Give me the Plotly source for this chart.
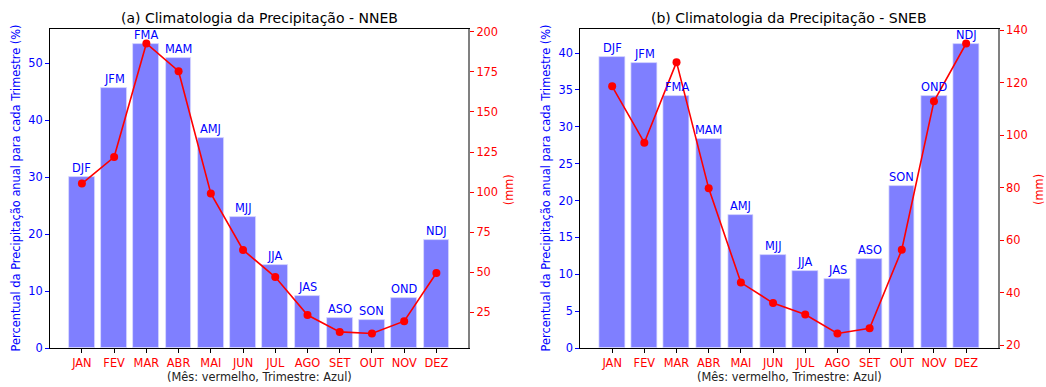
import plotly.graph_objects as go

meses = ["JAN", "FEV", "MAR", "ABR", "MAI", "JUN", "JUL", "AGO", "SET", "OUT", "NOV", "DEZ"]
trimestres = ["DJF", "JFM", "FMA", "MAM", "AMJ", "MJJ", "JJA", "JAS", "ASO", "SON", "OND", "NDJ"]

nneb_pct = [30.0, 45.7, 53.3, 50.8, 36.8, 22.9, 14.6, 9.1, 5.2, 4.9, 8.8, 18.9]
nneb_mm = [105.4, 121.9, 192.7, 175.4, 99.2, 64.0, 47.1, 23.4, 12.9, 11.9, 19.6, 49.6]

sneb_pct = [39.4, 38.7, 34.2, 28.3, 18.0, 12.6, 10.5, 9.35, 12.1, 22.0, 34.2, 41.2]
sneb_mm = [118.7, 97.2, 127.9, 79.8, 43.9, 36.1, 31.7, 24.5, 26.5, 56.4, 113.0, 135.0]

titles = ["(a) Climatologia da Precipitação - NNEB", "(b) Climatologia da Precipitação - SNEB"]
xlabel = "(Mês: vermelho, Trimestre: Azul)"
ylabel = "Percentual da Precipitação anual para cada Trimestre (%)"
ylabel2 = "(mm)"

W, H = 1046, 387
FONT = "DejaVu Sans"
FS = 11.4
FS_T = 14.0
BLUE = "#0000ff"
RED = "#ff0000"

xpos = list(range(len(meses)))

panels = [
    dict(pct=nneb_pct, mm=nneb_mm, x0=50, x1=468.3, title=titles[0], ytick=10, y2tick=25, y2start=25),
    dict(pct=sneb_pct, mm=sneb_mm, x0=580.3, x1=998, title=titles[1], ytick=5, y2tick=20, y2start=20),
]
top_px, bot_px = 29, 348
ydom = [1 - bot_px / H, 1 - top_px / H]

fig = go.Figure()
annotations = []
layout = {}

for i, p in enumerate(panels):
    n = i + 1
    xa = "x" if n == 1 else f"x{n}"
    ya = "y" if n == 1 else f"y{2*n-1}"
    ya2 = f"y{2*n}"
    xkey = "xaxis" if n == 1 else f"xaxis{n}"
    ykey = "yaxis" if n == 1 else f"yaxis{2*n-1}"
    y2key = f"yaxis{2*n}"

    fig.add_trace(go.Bar(
        x=xpos, y=p["pct"], width=0.8, xaxis=xa, yaxis=ya,
        marker=dict(color="rgba(0,0,255,0.5)", line=dict(color="rgba(220,220,255,0.9)", width=0.8)),
        showlegend=False, hoverinfo="skip",
    ))
    for xv, yv, lab in zip(xpos, p["pct"], trimestres):
        annotations.append(dict(text=lab, x=xv, y=yv, xref=xa, yref=ya, xanchor="center",
                                yanchor="bottom", showarrow=False, borderpad=1,
                                font=dict(family=FONT, size=FS, color=BLUE)))
    fig.add_trace(go.Scatter(
        x=xpos, y=p["mm"], mode="lines+markers", xaxis=xa, yaxis=ya2,
        line=dict(color=RED, width=1.6), marker=dict(color=RED, size=8),
        showlegend=False, hoverinfo="skip", cliponaxis=False,
    ))

    pmax = max(p["pct"]) * 1.05
    mmin, mmax = min(p["mm"]), max(p["mm"])
    mpad = 0.05 * (mmax - mmin)
    n_bars = len(xpos)
    xpad = 0.05 * (n_bars - 1 + 0.8)

    xdom = [p["x0"] / W, p["x1"] / W]
    layout[xkey] = dict(
        domain=xdom, anchor=ya, range=[-0.4 - xpad, n_bars - 1 + 0.4 + xpad],
        tickmode="array", tickvals=xpos, ticktext=meses,
        tickfont=dict(family=FONT, size=FS, color=RED),
        ticks="outside", ticklen=4, tickcolor="black", tickwidth=1,
        showline=True, linecolor="black", linewidth=1, mirror=True,
        showgrid=False, zeroline=False, fixedrange=True, automargin=False,
    )
    layout[ykey] = dict(
        domain=ydom, anchor=xa, range=[0, pmax],
        dtick=p["ytick"], tick0=0,
        tickfont=dict(family=FONT, size=FS, color=BLUE),
        ticks="outside", ticklen=4, tickcolor=BLUE, tickwidth=1,
        showline=True, linecolor="black", linewidth=1,
        showgrid=False, zeroline=False, fixedrange=True, automargin=False,
    )
    layout[y2key] = dict(
        overlaying=ya, anchor=xa, side="right", range=[mmin - mpad, mmax + mpad],
        dtick=p["y2tick"], tick0=p["y2start"],
        tickfont=dict(family=FONT, size=FS, color=RED),
        ticks="outside", ticklen=4, tickcolor=RED, tickwidth=1,
        showline=True, linecolor="#808080", linewidth=1.6,
        showgrid=False, zeroline=False, fixedrange=True, automargin=False,
    )

    cx = (p["x0"] + p["x1"]) / 2 / W
    annotations.append(dict(text=p["title"], x=cx, y=1 - 18 / H, xref="paper", yref="paper",
                            xanchor="center", yanchor="middle", showarrow=False,
                            font=dict(family=FONT, size=FS_T, color="black")))
    annotations.append(dict(text=xlabel, x=cx, y=1 - 377 / H, xref="paper", yref="paper",
                            xanchor="center", yanchor="middle", showarrow=False,
                            font=dict(family=FONT, size=FS, color="#222222")))
    ycen = 1 - (top_px + bot_px) / 2 / H
    lx = 15 if n == 1 else 545
    annotations.append(dict(text=ylabel, x=lx / W, y=ycen, xref="paper", yref="paper",
                            xanchor="center", yanchor="middle", showarrow=False, textangle=-90,
                            font=dict(family=FONT, size=FS, color=BLUE)))
    rx = (p["x1"] + 41) / W
    annotations.append(dict(text=ylabel2, x=rx, y=1 - 190 / H, xref="paper", yref="paper",
                            xanchor="center", yanchor="middle", showarrow=False, textangle=-90,
                            font=dict(family=FONT, size=FS, color=RED)))

fig.update_layout(
    width=W, height=H, margin=dict(l=0, r=0, t=0, b=0, pad=0),
    paper_bgcolor="white", plot_bgcolor="white",
    font=dict(family=FONT, size=FS),
    annotations=annotations, bargap=0, showlegend=False,
    **layout,
)

fig.write_html("out.html")
